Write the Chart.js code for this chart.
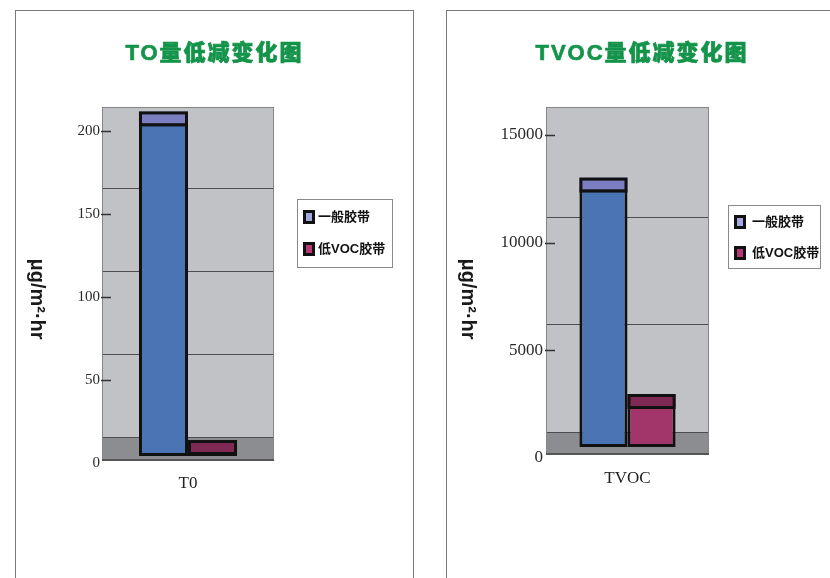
<html>
<head>
<script src="https://cdn.jsdelivr.net/npm/chart.js@4.4.0/dist/chart.umd.min.js"></script>
<style>
    body { margin: 0; background: #fff; }
    .panel { position: absolute; top: 10px; width: 399px; height: 580px; border: 1px solid #7a7a7a; box-sizing: border-box; background: #fff; }
    .panel canvas { position: absolute; left: 0; top: 0; }
    .title { position: absolute; left: 0; width: 100%; top: 29px; text-align: center; font-family: 'Liberation Sans', 'Noto Sans CJK SC', sans-serif; font-weight: 900; font-size: 22px; line-height: 26px; color: #14944a; letter-spacing: 2px; -webkit-text-stroke: 0.7px #14944a; }
</style>
</head>
<body>
<div class="panel" style="left:15px">
    <canvas id="toChart" width="397" height="567"></canvas>
    <div class="title">TO量低减变化图</div>
</div>
<div class="panel" style="left:446px">
    <canvas id="tvocChart" width="397" height="567"></canvas>
    <div class="title" style="padding-right:7px;box-sizing:border-box">TVOC量低减变化图</div>
</div>
<script>
// data
var seriesNames = ['一般胶带', '低VOC胶带'];
var toLabels = ['T0'];
var toGeneral = [201];
var toLowVoc = [3];
var toTicks = [0, 50, 100, 150, 200];
var tvocLabels = ['TVOC'];
var tvocGeneral = [12000];
var tvocLowVoc = [1950];
var tvocTicks = [0, 5000, 10000, 15000];
var yTitle = 'μg/m²·hr';

// fake 3d look: back wall, floor, bar caps, legend and rotated axis title
var pseudo3d = {
    id: 'pseudo3d',
    beforeDatasetsDraw: function (chart, args, o) {
        var ctx = chart.ctx, a = chart.chartArea, y = chart.scales.y;
        var w = a.right - a.left;
        var bottom = a.bottom - o.floorGap;
        ctx.save();
        ctx.fillStyle = '#c1c2c5';
        ctx.fillRect(a.left, a.top, w, bottom - a.top);
        var floorTop = y.getPixelForValue(0) - o.depth;
        ctx.fillStyle = '#8b8d90';
        ctx.fillRect(a.left, floorTop, w, bottom - floorTop);
        ctx.strokeStyle = '#4d4d4d';
        ctx.lineWidth = 1;
        y.ticks.forEach(function (t) {
            var py = Math.round(y.getPixelForValue(t.value) - o.depth) + 0.5;
            if (py < a.top + 4) return;
            ctx.beginPath(); ctx.moveTo(a.left, py); ctx.lineTo(a.right, py); ctx.stroke();
        });
        ctx.strokeStyle = '#858585';
        ctx.strokeRect(a.left + 0.5, a.top + 0.5, w - 1, bottom - a.top - 1);
        ctx.strokeStyle = '#555';
        ctx.lineWidth = 2;
        ctx.beginPath(); ctx.moveTo(a.left, bottom - 1); ctx.lineTo(a.right, bottom - 1); ctx.stroke();
        // tick dashes
        ctx.strokeStyle = '#333';
        ctx.lineWidth = 1.5;
        y.ticks.forEach(function (t) {
            if (t.value <= 0) return;
            var py = Math.round(y.getPixelForValue(t.value)) + 0.5;
            ctx.beginPath(); ctx.moveTo(a.left - 1, py); ctx.lineTo(a.left + 9, py); ctx.stroke();
        });
        ctx.restore();
    },
    afterDatasetsDraw: function (chart, args, o) {
        var ctx = chart.ctx;
        ctx.save();
        chart.data.datasets.forEach(function (ds, i) {
            chart.getDatasetMeta(i).data.forEach(function (el) {
                var p = el.getProps(['x', 'y', 'width'], true);
                var left = p.x - p.width / 2;
                ctx.fillStyle = ds.capColor;
                ctx.fillRect(left, p.y - o.capHeight, p.width, o.capHeight + 1);
                ctx.strokeStyle = '#111';
                ctx.lineWidth = 3;
                ctx.strokeRect(left + 1.5, p.y - o.capHeight + 1.5, p.width - 3, o.capHeight + 1);
            });
        });

        // legend
        var L = o.legend;
        ctx.fillStyle = '#fff';
        ctx.fillRect(L.x, L.y, L.w, L.h);
        ctx.strokeStyle = '#8a8a8a';
        ctx.lineWidth = 1;
        ctx.strokeRect(L.x + 0.5, L.y + 0.5, L.w, L.h);
        ctx.font = 'bold 13px "Liberation Sans", "Noto Sans CJK SC", sans-serif';
        ctx.textBaseline = 'middle';
        ctx.textAlign = 'left';
        chart.data.datasets.forEach(function (ds, i) {
            var ry = L.rows[i];
            ctx.fillStyle = '#111';
            ctx.fillRect(L.keyX, ry - 7, 12, 14);
            ctx.fillStyle = ds.keyColor;
            ctx.fillRect(L.keyX + 3, ry - 4, 6, 8);
            ctx.fillStyle = '#111';
            ctx.fillText(ds.label, L.textX, ry);
        });

        // y title, rotated clockwise
        ctx.translate(o.titleX, o.titleY);
        ctx.rotate(Math.PI / 2);
        ctx.font = 'bold 20px "Liberation Sans", sans-serif';
        ctx.textAlign = 'center';
        ctx.fillStyle = '#1a1a1a';
        ctx.fillText(yTitle, 0, 0);
        ctx.restore();
    }
};

function makeChart(id, labels, general, lowVoc, tickValues, c) {
    return new Chart(document.getElementById(id), {
        type: 'bar',
        plugins: [pseudo3d],
        data: {
            labels: labels,
            datasets: [
                { label: seriesNames[0], data: general, yAxisID: 'yb', backgroundColor: '#4a74b4', capColor: '#7b7ec0', keyColor: '#a3a8df', borderColor: '#111', borderWidth: 3, borderSkipped: false },
                { label: seriesNames[1], data: lowVoc, yAxisID: 'yb', backgroundColor: '#a2356a', capColor: '#7e2a55', keyColor: '#b53a74', borderColor: '#111', borderWidth: 3, borderSkipped: false }
            ]
        },
        options: {
            responsive: false,
            animation: false,
            layout: { padding: { left: 0, top: 96, right: c.padRight, bottom: c.padBottom } },
            datasets: { bar: { categoryPercentage: c.catPct, barPercentage: 1 } },
            plugins: {
                legend: { display: false },
                tooltip: { enabled: false },
                pseudo3d: { depth: 26, floorGap: c.floorGap, capHeight: 11, legend: c.legend, titleX: 21, titleY: 288 }
            },
            scales: {
                x: {
                    grid: { display: false, drawTicks: false },
                    border: { display: false },
                    ticks: { padding: c.xPad, color: '#222', font: { family: 'Liberation Serif', size: c.xFont } },
                    afterFit: function (s) { s.height = 40; }
                },
                y: {
                    min: 0, max: c.frontMax,
                    grid: { display: false, drawTicks: false },
                    border: { display: false },
                    ticks: {
                        padding: c.yPad, color: '#2a2a2a', font: { family: 'Liberation Serif', size: c.yFont },
                        callback: function (v) { return String(v); }
                    },
                    afterBuildTicks: function (s) { s.ticks = tickValues.map(function (v) { return { value: v }; }); },
                    afterFit: function (s) { s.width = c.left; }
                },
                yb: { display: false, min: c.barMin, max: c.barMax }
            }
        }
    });
}

makeChart('toChart', toLabels, toGeneral, toLowVoc, toTicks, {
    left: 86, padRight: 139, padBottom: 75, catPct: 0.57, floorGap: 2,
    frontMax: 214.5, barMin: -4.2, barMax: 210.3,
    xPad: 10, xFont: 17, yPad: 2, yFont: 15,
    legend: { x: 281, y: 188, w: 95, h: 68, keyX: 287, textX: 302, rows: [206, 238] }
});

makeChart('tvocChart', tvocLabels, tvocGeneral, tvocLowVoc, tvocTicks, {
    left: 99, padRight: 135, padBottom: 80, catPct: 0.59, floorGap: 3,
    frontMax: 16300, barMin: -511, barMax: 15789,
    xPad: 10, xFont: 17, yPad: 3, yFont: 17,
    legend: { x: 281, y: 194, w: 92, h: 63, keyX: 287, textX: 305, rows: [211, 242] }
});
</script>
</body>
</html>
